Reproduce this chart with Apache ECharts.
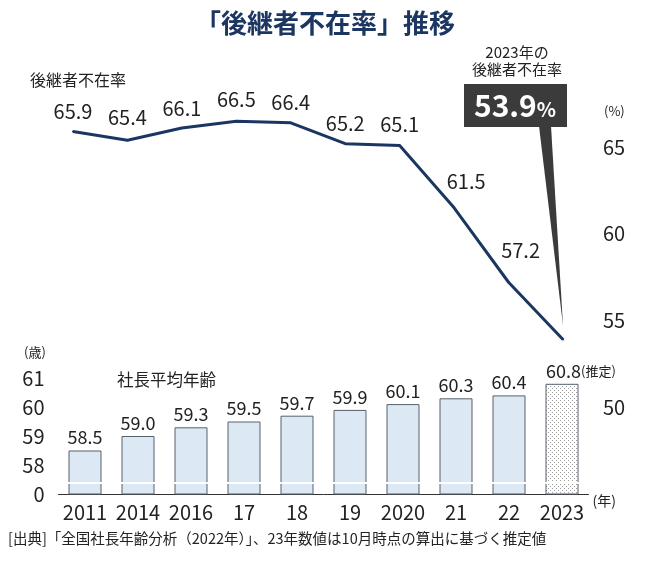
<!DOCTYPE html>
<html>
<head>
<meta charset="utf-8">
<script src="https://cdn.jsdelivr.net/npm/echarts@6/dist/echarts.min.js"></script>
<style>
html, body { margin: 0; padding: 0; background: #fff; }
#main { width: 650px; height: 561px; }
</style>
</head>
<body>
<div id="main"></div>
<script>
var years = ['2011', '2014', '2016', '17', '18', '19', '2020', '21', '22', '2023'];
var absentRate = [65.9, 65.4, 66.1, 66.5, 66.4, 65.2, 65.1, 61.5, 57.2, 53.9];
var avgAge = [58.5, 59.0, 59.3, 59.5, 59.7, 59.9, 60.1, 60.3, 60.4, 60.8];
var rateTicks = [50, 55, 60, 65];
var ageTicks = [58, 59, 60, 61];

var FONT = '"Noto Sans CJK JP", "Noto Sans", sans-serif';
var NAVY = '#1c3662';

// ラベル位置の微調整
var labelShift = [[0, 0], [0, -3], [0, 0], [0, -2], [0, 0], [0, 0], [0, -1], [12, -6], [12, -12], [0, 0]];

// 推定値の棒用ドット柄
var pat = document.createElement('canvas');
pat.width = 4; pat.height = 4;
var ctx = pat.getContext('2d');
ctx.fillStyle = '#fff';
ctx.fillRect(0, 0, 4, 4);
ctx.fillStyle = '#9c9c9c';
ctx.fillRect(0, 0, 1, 1);
ctx.fillRect(2, 2, 1, 1);

var last = years.length - 1;
var barData = avgAge.map(function (v, i) {
	if (i === last) {
		return { value: v, itemStyle: { color: { image: pat, repeat: 'repeat' } } };
	}
	return v;
});
var lineData = absentRate.map(function (v, i) {
	return { value: v, label: { offset: labelShift[i] } };
});

var myChart = echarts.init(document.getElementById('main'));

option = {
	animation: false,
	textStyle: { fontFamily: FONT },
	title: {
		text: '「後継者不在率」推移',
		left: 'center',
		top: 5,
		textStyle: { fontFamily: FONT, fontSize: 26, fontWeight: 'bold', color: NAVY }
	},
	grid: [
		{ left: 73, right: 87, top: 60.5, bottom: 154 },
		{ left: 58.5, right: 61.5, top: 378, bottom: 67 }
	],
	xAxis: [
		{
			gridIndex: 0, type: 'category', data: years, boundaryGap: false,
			show: false
		},
		{
			gridIndex: 1, type: 'category', data: years,
			axisLine: { lineStyle: { color: '#333', width: 1 } },
			axisTick: { show: false },
			axisLabel: { interval: 0, fontFamily: FONT, fontSize: 20, color: '#222', margin: 8 },
			name: '(年)', nameLocation: 'end', nameGap: 4,
			nameTextStyle: { fontFamily: FONT, fontSize: 14, color: '#222', verticalAlign: 'top' }
		}
	],
	yAxis: [
		{
			gridIndex: 0, type: 'value', position: 'right',
			min: 50, max: 70, interval: 5,
			splitLine: { show: false }, axisLine: { show: false }, axisTick: { show: false },
			axisLabel: {
				fontFamily: FONT, fontSize: 20, color: '#222', margin: 40,
				formatter: function (v) { return rateTicks.indexOf(v) >= 0 ? String(v) : ''; }
			}
		},
		{
			gridIndex: 1, type: 'value',
			min: 57, max: 61, interval: 1,
			splitLine: { show: false }, axisLine: { show: false }, axisTick: { show: false },
			axisLabel: {
				fontFamily: FONT, fontSize: 20, color: '#222', margin: 14,
				formatter: function (v) { return ageTicks.indexOf(v) >= 0 ? String(v) : '0'; }
			}
		}
	],
	series: [
		{
			type: 'line', xAxisIndex: 0, yAxisIndex: 0,
			data: lineData,
			symbol: 'circle', symbolSize: 2, showSymbol: true,
			itemStyle: { color: NAVY },
			lineStyle: { color: NAVY, width: 3 },
			label: {
				show: true, position: 'top', distance: 9,
				fontFamily: FONT, fontSize: 20, color: '#222',
				formatter: function (p) { return p.dataIndex === last ? '' : p.value.toFixed(1); }
			}
		},
		{
			type: 'bar', xAxisIndex: 1, yAxisIndex: 1,
			data: barData,
			barWidth: 33,
			itemStyle: { color: '#dde8f5', borderColor: '#56606c', borderWidth: 1 },
			label: {
				show: true, position: 'top', distance: 4,
				fontFamily: FONT, fontSize: 18, color: '#222',
				formatter: function (p) {
					if (p.dataIndex === last) return '{v|' + p.value.toFixed(1) + '}{s|(推定)}';
					return p.value.toFixed(1);
				},
				rich: {
					v: { fontFamily: FONT, fontSize: 18, color: '#222' },
					s: { fontFamily: FONT, fontSize: 13, color: '#222' }
				}
			},
			labelLayout: function (p) {
				if (p.dataIndex === last) return { dx: 19 };
				return {};
			},
			markLine: {
				silent: true, symbol: 'none',
				lineStyle: { color: '#fff', width: 2, type: 'solid' },
				label: { show: false },
				data: [{ yAxis: 57.38 }]
			}
		}
	],
	graphic: [
		{ type: 'text', left: 30, top: 72, style: { text: '後継者不在率', font: '16px ' + FONT, fill: '#222' } },
		{ type: 'text', left: 604, top: 105, style: { text: '(%)', font: '13px ' + FONT, fill: '#222' } },
		{ type: 'text', left: 24, top: 346, style: { text: '(歳)', font: '13px ' + FONT, fill: '#222' } },
		{ type: 'text', left: 117, top: 371, style: { text: '社長平均年齢', font: '16.5px ' + FONT, fill: '#222' } },
		{ type: 'text', left: 8, top: 531, style: { text: '[出典]「全国社長年齢分析（2022年）」、23年数値は10月時点の算出に基づく推定値', font: '14.5px ' + FONT, fill: '#222' } }
	]
};

if (option && typeof option === "object") {
	myChart.setOption(option, true);
}

// 2023年の吹き出し
var tip = myChart.convertToPixel({ xAxisIndex: 0, yAxisIndex: 0 }, [last, absentRate[last]]);
myChart.setOption({
	graphic: option.graphic.concat([
		{
			type: 'text', x: 517, y: 44,
			style: { text: '2023年の\n後継者不在率', font: '15px ' + FONT, fill: '#222', align: 'center', lineHeight: 17 }
		},
		{
			type: 'polygon',
			shape: { points: [[539, 126], [551, 126], [tip[0], tip[1] - 14]] },
			style: { fill: '#3b3b3b' }
		},
		{
			type: 'rect',
			shape: { x: 464, y: 84, width: 103, height: 43 },
			style: { fill: '#3b3b3b' }
		},
		{
			type: 'text', x: 515, y: 106,
			style: {
				text: '{n|' + absentRate[last].toFixed(1) + '}{p|%}',
				align: 'center', verticalAlign: 'middle',
				rich: {
					n: { fontFamily: FONT, fontSize: 30, fontWeight: 'bold', fill: '#fff' },
					p: { fontFamily: FONT, fontSize: 20, fontWeight: 'bold', fill: '#fff', padding: [6, 0, 0, 0] }
				}
			}
		}
	])
});
</script>
</body>
</html>
